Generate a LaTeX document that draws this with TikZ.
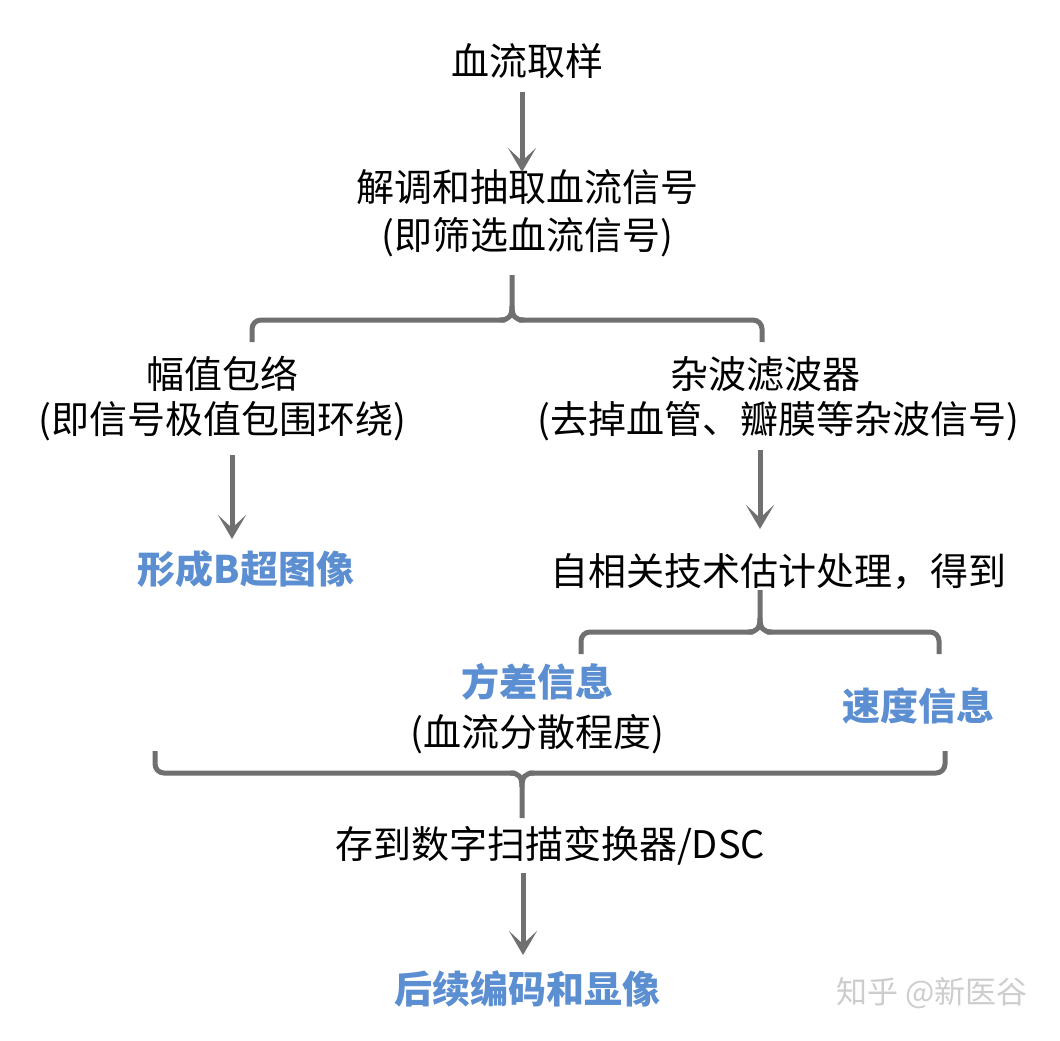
\documentclass[tikz,border=0pt]{standalone}
\usepackage{fontspec}
\setmainfont{Noto Sans CJK SC}
\usetikzlibrary{arrows.meta}
\definecolor{linegray}{RGB}{112,112,112}
\definecolor{infoblue}{RGB}{92,142,210}
\definecolor{wmgray}{RGB}{205,205,205}
\tikzset{
  txt/.style={inner sep=0pt, text height=0.88em, text depth=0.12em, yshift=-10pt, font=\fontsize{38}{44}\selectfont, text=black},
  bluetxt/.style={txt, font=\fontsize{38}{44}\selectfont\bfseries, text=infoblue},
  wmtxt/.style={inner sep=0pt, font=\fontsize{31}{36}\selectfont, text=wmgray},
  arr/.style={draw=linegray, line width=5pt, -{Stealth[length=24pt,width=28pt,inset=13pt]}},
  bracestyle/.style={draw=linegray, line width=5pt, rounded corners=9pt},
  stemstyle/.style={draw=linegray, line width=5pt}
}
\begin{document}
\begin{tikzpicture}[x=1pt,y=-1pt]
\useasboundingbox[fill=white] (0,0) rectangle (1060,1041);

% texts
\node[txt] (t1) at (527,62) {血流取样};
\node[txt] (t2) at (527,188) {解调和抽取血流信号};
\node[txt] (t3) at (527,236) {(即筛选血流信号)};
\node[txt] (t4) at (222,375) {幅值包络};
\node[txt] (t5) at (222,420) {(即信号极值包围环绕)};
\node[txt] (t6) at (765,375) {杂波滤波器};
\node[txt] (t7) at (778,420) {(去掉血管、瓣膜等杂波信号)};
\node[bluetxt] (t8) at (246,570) {形成B超图像};
\node[txt] (t9) at (778,572) {自相关技术估计处理，得到};
\node[bluetxt] (t10) at (537,683) {方差信息};
\node[txt] (t11) at (537,733) {(血流分散程度)};
\node[bluetxt] (t12) at (918,707) {速度信息};
\node[txt] (t13) at (550,845) {存到数字扫描变换器/DSC};
\node[bluetxt] (t14) at (527,990) {后续编码和显像};
\node[wmtxt] (wm) at (932,993) {知乎 @新医谷};

% arrow end points
\coordinate (a1s) at (522,92);  \coordinate (a1e) at (522,172);
\coordinate (a2s) at (232,455); \coordinate (a2e) at (232,539);
\coordinate (a3s) at (760,450); \coordinate (a3e) at (760,529);
\coordinate (a4s) at (523,873); \coordinate (a4e) at (523,955);

\draw[arr] (a1s) -- (a1e);
\draw[arr] (a2s) -- (a2e);
\draw[arr] (a3s) -- (a3e);
\draw[arr] (a4s) -- (a4e);

% brace 1 (opening downward)
\coordinate (b1top) at (512,275);
\coordinate (b1l) at (252,342);
\coordinate (b1r) at (762,342);
\draw[bracestyle] (b1l) |- (505,320);
\draw[bracestyle] (b1r) |- (519,320);
\draw[stemstyle] (b1top) -- (512,306) .. controls (512,316) and (509,320) .. (500,320);
\draw[stemstyle] (512,306) .. controls (512,316) and (515,320) .. (524,320);

% brace 2
\coordinate (b2top) at (760,590);
\coordinate (b2l) at (581,654);
\coordinate (b2r) at (939,654);
\draw[bracestyle] (b2l) |- (753,632);
\draw[bracestyle] (b2r) |- (767,632);
\draw[stemstyle] (b2top) -- (760,618) .. controls (760,628) and (757,632) .. (748,632);
\draw[stemstyle] (760,618) .. controls (760,628) and (763,632) .. (772,632);

% brace 3 (opening upward)
\coordinate (b3bot) at (522,818);
\coordinate (b3l) at (155,751);
\coordinate (b3r) at (945,751);
\draw[bracestyle] (b3l) |- (515,773);
\draw[bracestyle] (b3r) |- (529,773);
\draw[stemstyle] (b3bot) -- (522,787) .. controls (522,777) and (519,773) .. (510,773);
\draw[stemstyle] (522,787) .. controls (522,777) and (525,773) .. (534,773);
\end{tikzpicture}
\end{document}
